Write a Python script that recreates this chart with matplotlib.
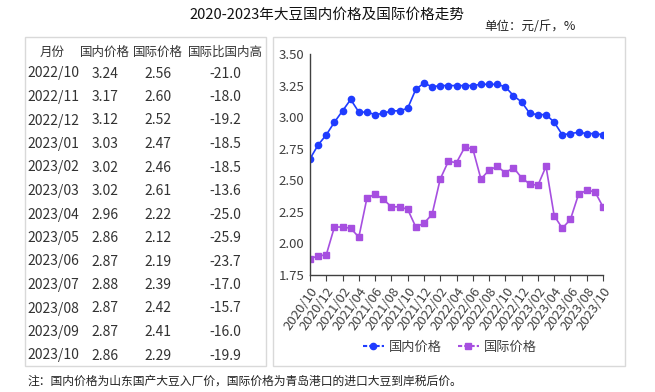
import matplotlib
matplotlib.use("Agg")
import matplotlib.pyplot as plt
from matplotlib.patches import Rectangle
from matplotlib.lines import Line2D

plt.rcParams['font.family'] = ['Noto Sans CJK SC', 'DejaVu Sans']

# ---- data ----
months = [f"{y}/{m:02d}" for y, m in
          [(2020, 10), (2020, 11), (2020, 12)] +
          [(2021, i) for i in range(1, 13)] +
          [(2022, i) for i in range(1, 13)] +
          [(2023, i) for i in range(1, 11)]]
domestic = [2.67, 2.78, 2.86, 2.96, 3.05, 3.14, 3.04, 3.04, 3.02, 3.03, 3.05, 3.05,
            3.07, 3.22, 3.27, 3.24, 3.25, 3.25, 3.25, 3.25, 3.25, 3.26, 3.26, 3.26,
            3.24, 3.17, 3.12, 3.03, 3.02, 3.02, 2.96, 2.86, 2.87, 2.88, 2.87, 2.87, 2.86]
international = [1.88, 1.90, 1.91, 2.13, 2.13, 2.12, 2.05, 2.36, 2.39, 2.35, 2.29, 2.29,
                 2.27, 2.13, 2.16, 2.23, 2.51, 2.65, 2.64, 2.76, 2.75, 2.51, 2.58, 2.61,
                 2.56, 2.60, 2.52, 2.47, 2.46, 2.61, 2.22, 2.12, 2.19, 2.39, 2.42, 2.41, 2.29]

table_header = ["月份", "国内价格", "国际价格", "国际比国内高"]
table_months = ["2022/10", "2022/11", "2022/12", "2023/01", "2023/02", "2023/03", "2023/04",
                "2023/05", "2023/06", "2023/07", "2023/08", "2023/09", "2023/10"]
table_dom = ["3.24", "3.17", "3.12", "3.03", "3.02", "3.02", "2.96",
             "2.86", "2.87", "2.88", "2.87", "2.87", "2.86"]
table_intl = ["2.56", "2.60", "2.52", "2.47", "2.46", "2.61", "2.22",
              "2.12", "2.19", "2.39", "2.42", "2.41", "2.29"]
table_diff = ["-21.0", "-18.0", "-19.2", "-18.5", "-18.5", "-13.6", "-25.0",
              "-25.9", "-23.7", "-17.0", "-15.7", "-16.0", "-19.9"]

title = "2020-2023年大豆国内价格及国际价格走势"
unit = "单位：元/斤，%"
note = "注：国内价格为山东国产大豆入厂价，国际价格为青岛港口的进口大豆到岸税后价。"

W, H = 655, 392
fig = plt.figure(figsize=(W / 100, H / 100), dpi=100)

def fx(px):
    return px / W

def fy(py):
    return 1 - py / H

txt_color = "#333333"

# title / unit / note
fig.text(fx(327), fy(15), title, ha="center", va="center", fontsize=10.5, color="#111111")
fig.text(fx(530), fy(27), unit, ha="center", va="center", fontsize=9, color="#222222")
fig.text(fx(27), fy(381), note, ha="left", va="center", fontsize=8.5, color="#222222")

# boxes
fig.patches.append(Rectangle((fx(25), fy(366)), fx(266) - fx(25), fy(37) - fy(366),
                             transform=fig.transFigure, fill=False, edgecolor="#d9d9d9", lw=1))
fig.patches.append(Rectangle((fx(273), fy(366)), fx(625) - fx(273), fy(37) - fy(366),
                             transform=fig.transFigure, fill=False, edgecolor="#d9d9d9", lw=1))

# table
col_x = [52, 105, 158, 225]
hy = 52
for x, h in zip(col_x, table_header):
    fig.text(fx(x), fy(hy), h, ha="center", va="center", fontsize=9, color=txt_color)
row0, dy = 73.5, 23.5
for i in range(len(table_months)):
    y = row0 + i * dy
    fig.text(fx(27), fy(y), table_months[i], ha="left", va="center", fontsize=10, color=txt_color)
    fig.text(fx(105), fy(y), table_dom[i], ha="center", va="center", fontsize=10, color=txt_color)
    fig.text(fx(158), fy(y), table_intl[i], ha="center", va="center", fontsize=10, color=txt_color)
    fig.text(fx(225), fy(y), table_diff[i], ha="center", va="center", fontsize=10, color=txt_color)

# chart
ax = fig.add_axes([fx(310), fy(275), fx(603) - fx(310), fy(54) - fy(275)])
x = list(range(len(months)))
blue = "#1f3cff"
purple = "#a64fe0"
ax.plot(x, domestic, color=blue, marker="o", markersize=4.5, lw=1.2, label="国内价格")
ax.plot(x, international, color=purple, marker="s", markersize=4.5, lw=1.2, label="国际价格")
ax.set_xlim(0, len(months) - 1)
ax.set_ylim(1.75, 3.50)
ax.set_yticks([1.75 + 0.25 * i for i in range(8)])
ax.yaxis.set_major_formatter(matplotlib.ticker.FormatStrFormatter("%.2f"))
ax.set_xticks(x[::2])
ax.set_xticklabels(months[::2], rotation=55, ha="right", rotation_mode="anchor")
ax.tick_params(axis="y", length=0, labelsize=9.5, labelcolor="#404040", pad=4)
ax.tick_params(axis="x", length=4, labelsize=9.5, labelcolor="#404040", color="#404040", pad=3)
for s in ["top", "right"]:
    ax.spines[s].set_visible(False)
for s in ["left", "bottom"]:
    ax.spines[s].set_color("#404040")
    ax.spines[s].set_linewidth(1)

handles = [Line2D([], [], color=blue, marker="o", markersize=4.5, lw=1.5, ls=(0, (2, 1))),
           Line2D([], [], color=purple, marker="s", markersize=4.5, lw=1.5, ls=(0, (2, 1)))]
fig.legend(handles, ["国内价格", "国际价格"], loc="center", bbox_to_anchor=(fx(450), fy(347)),
           ncol=2, frameon=False, fontsize=9.5, handlelength=1.6, columnspacing=1.2,
           handletextpad=0.4, labelcolor="#404040")

fig.savefig("out.png", dpi=100)
